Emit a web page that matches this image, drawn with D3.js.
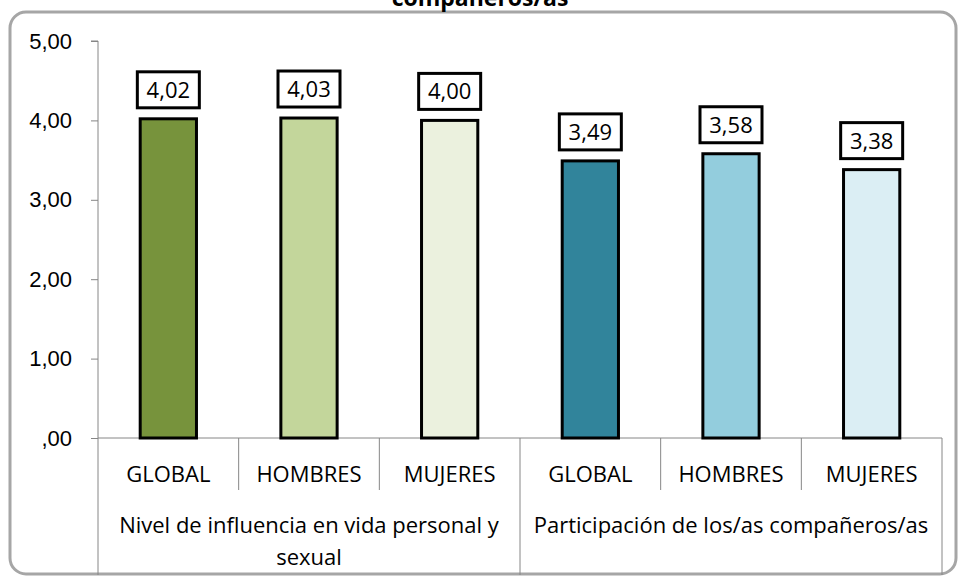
<!DOCTYPE html>
<html>
<head>
<meta charset="utf-8">
<script src="https://cdn.jsdelivr.net/npm/d3@7"></script>
<style>
  body { margin: 0; background: #fff; }
  svg { display: block; font-family: "Open Sans", "DejaVu Sans", sans-serif; }
</style>
</head>
<body>
<svg id="chart" width="960" height="579"></svg>
<script>
const groups = ["Nivel de influencia en vida personal y sexual", "Participación de los/as compañeros/as"];
const categories = ["GLOBAL", "HOMBRES", "MUJERES", "GLOBAL", "HOMBRES", "MUJERES"];
const values = [4.02, 4.03, 4.00, 3.49, 3.58, 3.38];
const colors = ["#77933C", "#C3D69B", "#EBF1DE", "#31849B", "#93CDDD", "#DBEEF4"];
const yTicks = [0, 1, 2, 3, 4, 5];

const width = 960;
const height = 579;
const margin = {top: 41, right: 18, bottom: 141, left: 98};
const fontSize = "22px";
const fmt = v => d3.format(".2f")(v).replace(".", ",").replace(/^0/, "");

const svg = d3.select("#chart");

// outer frame
svg.append("rect")
    .attr("x", 10).attr("y", 12)
    .attr("width", 946).attr("height", 562)
    .attr("rx", 16).attr("ry", 16)
    .attr("fill", "#fff")
    .attr("stroke", "#a6a6a6")
    .attr("stroke-width", 3);

// title (mostly cut off at the top, as in the source)
svg.append("text")
    .attr("x", 480).attr("y", 6)
    .attr("text-anchor", "middle")
    .style("font-weight", "bold")
    .style("font-size", "23px")
    .text("compañeros/as");

const x = d3.scaleBand()
    .domain(d3.range(categories.length))
    .range([margin.left, width - margin.right])
    .paddingInner(0).paddingOuter(0);

const y = d3.scaleLinear()
    .domain([0, 5])
    .range([height - margin.bottom, margin.top]);

// y axis
const yAxis = d3.axisLeft(y)
    .tickValues(yTicks)
    .tickSize(7)
    .tickPadding(19)
    .tickFormat(fmt);

const yAxisG = svg.append("g")
    .attr("transform", "translate(" + margin.left + ",0)")
    .call(yAxis);
yAxisG.selectAll("line, path").attr("stroke", "#868686");
yAxisG.select(".domain").attr("d", "M-7," + y(5) + "H0V" + y(0));
yAxisG.selectAll("text")
    .style("font-size", fontSize)
    .attr("fill", "#000");

// x baseline and separators
const base = y(0);
svg.append("line")
    .attr("x1", margin.left).attr("x2", width - margin.right)
    .attr("y1", base).attr("y2", base)
    .attr("stroke", "#868686");

const seps = d3.range(categories.length + 1);
svg.selectAll(".sep")
    .data(seps)
    .join("line")
    .attr("class", "sep")
    .attr("x1", i => i < categories.length ? x(i) : x.range()[1])
    .attr("x2", i => i < categories.length ? x(i) : x.range()[1])
    .attr("y1", base)
    .attr("y2", i => (i % 3 === 0) ? 575 : 490)
    .attr("stroke", "#868686");

// category labels
svg.selectAll(".cat")
    .data(categories)
    .join("text")
    .attr("class", "cat")
    .attr("x", (d, i) => x(i) + x.bandwidth() / 2)
    .attr("y", 482)
    .attr("text-anchor", "middle")
    .style("font-size", fontSize)
    .text(d => d);

// group labels
const groupG = svg.selectAll(".grp")
    .data(groups)
    .join("text")
    .attr("class", "grp")
    .attr("x", (d, g) => x(g * 3) + x.bandwidth() * 1.5)
    .attr("y", 533)
    .attr("text-anchor", "middle")
    .style("font-size", fontSize);
groupG.each(function(d, g) {
    const t = d3.select(this);
    if (g === 0) {
        t.append("tspan").text("Nivel de influencia en vida personal y");
        t.append("tspan")
            .attr("x", x(0) + x.bandwidth() * 1.5)
            .attr("dy", 32)
            .text("sexual");
    } else {
        t.text(d);
    }
});

// bars
const barW = x.bandwidth() * 0.4;
svg.selectAll(".bar")
    .data(values)
    .join("rect")
    .attr("class", "bar")
    .attr("x", (d, i) => x(i) + (x.bandwidth() - barW) / 2)
    .attr("y", d => y(d))
    .attr("width", barW)
    .attr("height", d => base - y(d))
    .attr("fill", (d, i) => colors[i])
    .attr("stroke", "#000")
    .attr("stroke-width", 3);

// value labels in boxes
const boxW = 62, boxH = 36;
const lbl = svg.selectAll(".lbl")
    .data(values)
    .join("g")
    .attr("class", "lbl")
    .attr("transform", (d, i) => "translate(" + (x(i) + x.bandwidth() / 2) + "," + (y(d) - 11 - boxH / 2) + ")");
lbl.append("rect")
    .attr("x", -boxW / 2).attr("y", -boxH / 2)
    .attr("width", boxW).attr("height", boxH)
    .attr("fill", "#fff")
    .attr("stroke", "#000")
    .attr("stroke-width", 3);
lbl.append("text")
    .attr("text-anchor", "middle")
    .attr("dy", "0.36em")
    .style("font-size", fontSize)
    .text(d => fmt(d));
</script>
</body>
</html>
